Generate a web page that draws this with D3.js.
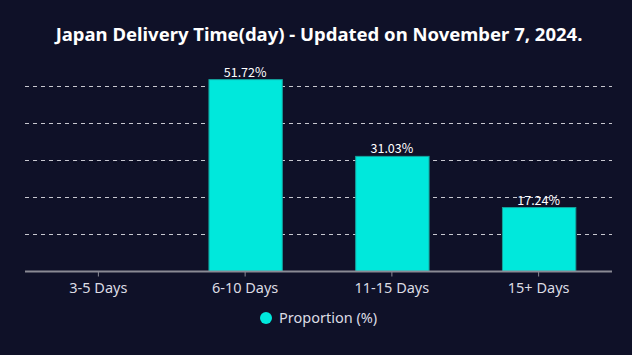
<!DOCTYPE html>
<html>
<head>
<meta charset="utf-8">
<script src="https://cdn.jsdelivr.net/npm/d3@7"></script>
<style>
  html, body { margin: 0; padding: 0; background: #fff; }
  svg { display: block; }
</style>
</head>
<body>
<svg id="chart"></svg>
<script>
const categories = ["3-5 Days", "6-10 Days", "11-15 Days", "15+ Days"];
const values = [0, 51.72, 31.03, 17.24];
const gridTicks = [10, 20, 30, 40, 50];
const seriesName = "Proportion (%)";
const titleText = "Japan Delivery Time(day) - Updated on November 7, 2024.";

const W = 632, H = 355;
const margin = { left: 25, right: 20, top: 86, bottom: 83 };

const svg = d3.select("#chart").attr("width", 638).attr("height", 359);

svg.append("rect").attr("width", W).attr("height", H).attr("fill", "#0f1128");

const x = d3.scaleBand()
  .domain(categories)
  .range([margin.left, W - margin.right])
  .paddingInner(0.5)
  .paddingOuter(0.25);

const y = d3.scaleLinear()
  .domain([0, 50])
  .range([H - margin.bottom - 0.5, margin.top]);

// dashed grid
svg.append("g")
  .selectAll("line")
  .data(gridTicks)
  .join("line")
  .attr("x1", margin.left)
  .attr("x2", W - margin.right)
  .attr("y1", d => Math.round(y(d)) + 0.5)
  .attr("y2", d => Math.round(y(d)) + 0.5)
  .attr("stroke", "#c8c8d0")
  .attr("stroke-dasharray", "4,4");

// bars
svg.append("g")
  .selectAll("rect")
  .data(values)
  .join("rect")
  .attr("x", (d, i) => x(categories[i]) + 0.5)
  .attr("width", x.bandwidth())
  .attr("y", d => y(d))
  .attr("height", d => y(0) - y(d))
  .attr("fill", "#00e8dc")
  .attr("stroke", "#14a39d")
  .attr("stroke-width", 1)
  .attr("display", d => d > 0 ? null : "none");

// value labels
svg.append("g")
  .selectAll("text")
  .data(values)
  .join("text")
  .attr("x", (d, i) => x(categories[i]) + x.bandwidth() / 2)
  .attr("y", d => y(d) - 3)
  .attr("text-anchor", "middle")
  .attr("fill", "#ffffff")
  .attr("font-family", "'Noto Sans CJK SC', 'DejaVu Sans Mono', monospace")
  .attr("font-size", 12.5)
  .text(d => d > 0 ? d.toFixed(2) + "%" : "");

// x axis
const axisY = y(0);
const xAxis = svg.append("g")
  .attr("transform", `translate(0,${axisY})`)
  .call(d3.axisBottom(x).tickSize(5).tickPadding(6));
xAxis.select(".domain")
  .attr("stroke", "#8a8a94")
  .attr("stroke-width", 2)
  .attr("d", `M${margin.left},0H${W - margin.right}`);
xAxis.selectAll(".tick line").attr("stroke", "#8a8a94");
xAxis.selectAll(".tick text")
  .attr("fill", "#dcdce4")
  .attr("font-family", "'Noto Sans', 'Open Sans', sans-serif")
  .attr("font-size", 14.5);

// title
svg.append("text")
  .attr("x", 319)
  .attr("y", 41)
  .attr("text-anchor", "middle")
  .attr("fill", "#ffffff")
  .attr("font-family", "'Noto Sans', 'Open Sans', sans-serif")
  .attr("font-weight", "bold")
  .attr("font-size", 18.5)
  .text(titleText);

// legend
const legend = svg.append("g").attr("transform", "translate(266,318)");
legend.append("circle").attr("r", 6).attr("fill", "#00e8dc");
legend.append("text")
  .attr("x", 13)
  .attr("y", 5)
  .attr("fill", "#dcdce4")
  .attr("font-family", "'Noto Sans', 'Open Sans', sans-serif")
  .attr("font-size", 14.5)
  .text(seriesName);
</script>
</body>
</html>
